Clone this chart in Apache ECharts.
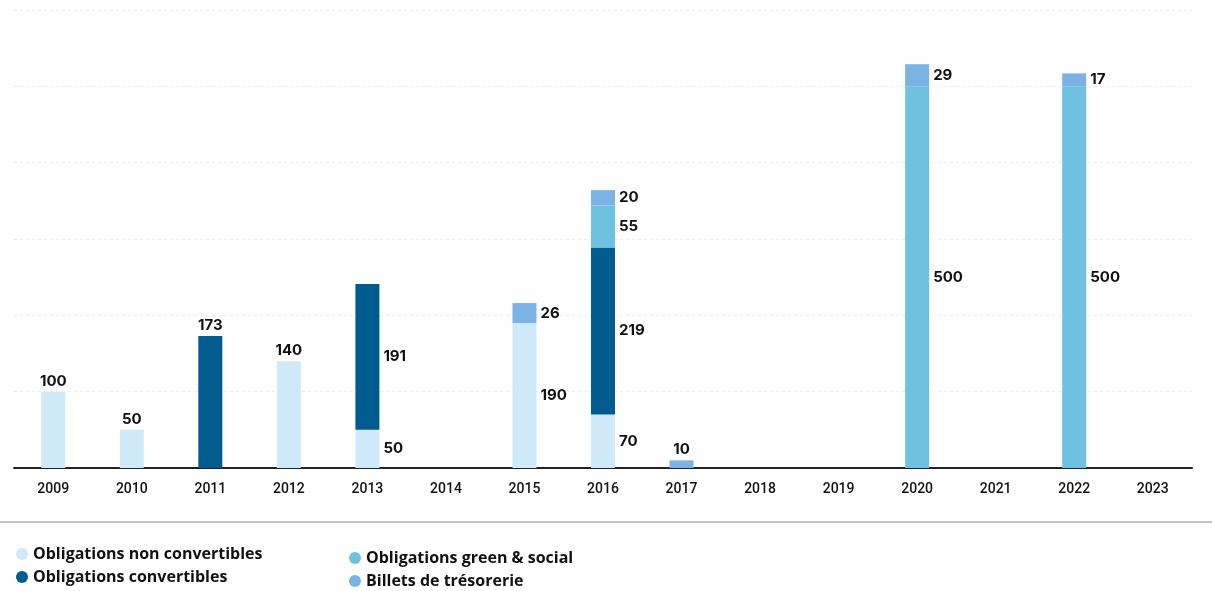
<!DOCTYPE html>
<html>
<head>
<meta charset="utf-8">
<script src="https://cdn.jsdelivr.net/npm/echarts@6/dist/echarts.min.js"></script>
<style>
  html, body { margin: 0; padding: 0; background: #ffffff; }
  #chart { width: 1212px; height: 591px; }
</style>
</head>
<body>
<div id="chart"></div>
<script>
// Emissions par année (M€)
const years = ['2009','2010','2011','2012','2013','2014','2015','2016','2017','2018','2019','2020','2021','2022','2023'];
const nonConvertibles = [100, 50, 0, 140, 50, 0, 190, 70, 0, 0, 0, 0, 0, 0, 0];
const convertibles    = [0, 0, 173, 0, 191, 0, 0, 219, 0, 0, 0, 0, 0, 0, 0];
const greenSocial     = [0, 0, 0, 0, 0, 0, 0, 55, 0, 0, 0, 500, 0, 500, 0];
const billets         = [0, 0, 0, 0, 0, 0, 26, 20, 10, 0, 0, 29, 0, 17, 0];

const seriesDefs = [
  { name: 'Obligations non convertibles', values: nonConvertibles, color: '#cfe9f9' },
  { name: 'Obligations convertibles',     values: convertibles,    color: '#005b8f' },
  { name: 'Obligations green & social',   values: greenSocial,     color: '#6ec1e0' },
  { name: 'Billets de trésorerie',        values: billets,         color: '#7cb3e5' }
];

// Number of non-empty segments per year: single segments carry their label on top,
// stacked ones carry it on the right side of each segment.
const segCount = years.map((_, i) => seriesDefs.filter(s => s.values[i] > 0).length);

const labelStyle = { color: '#111', fontSize: 15, fontWeight: 'bold', fontFamily: 'Inter, Roboto, sans-serif' };
const legendText = { color: '#111', fontSize: 16, fontWeight: 'bold', fontFamily: '"Open Sans", Inter, sans-serif' };

const series = seriesDefs.map(s => ({
  name: s.name,
  type: 'bar',
  stack: 'total',
  barWidth: 24,
  itemStyle: { color: s.color },
  data: s.values.map((v, i) => ({
    value: v === 0 ? null : v,
    label: {
      show: v > 0,
      position: segCount[i] > 1 ? 'right' : 'top',
      distance: segCount[i] > 1 ? 4 : 3,
      ...labelStyle
    }
  }))
}));

const chart = echarts.init(document.getElementById('chart'), null, { renderer: 'canvas' });
chart.setOption({
  animation: false,
  backgroundColor: '#ffffff',
  grid: { left: 14, right: 20, top: 10, bottom: 123 },
  xAxis: {
    type: 'category',
    data: years,
    axisLine: { lineStyle: { color: '#222', width: 2 } },
    axisTick: { show: false },
    axisLabel: { color: '#111', fontSize: 14, margin: 14, fontFamily: 'Roboto, sans-serif', fontWeight: 500 }
  },
  yAxis: {
    type: 'value',
    min: 0,
    max: 600,
    interval: 100,
    axisLine: { show: false },
    axisTick: { show: false },
    axisLabel: { show: false },
    splitLine: { lineStyle: { color: '#ececec', type: [3, 3], width: 1 } }
  },
  legend: [
    {
      data: ['Obligations non convertibles', 'Obligations convertibles'],
      orient: 'vertical', left: 11, top: 541, height: 50,
      icon: 'circle', itemWidth: 12, itemHeight: 12, itemGap: 7,
      textStyle: legendText
    },
    {
      data: ['Obligations green & social', 'Billets de trésorerie'],
      orient: 'vertical', left: 344, top: 545, height: 46,
      icon: 'circle', itemWidth: 12, itemHeight: 12, itemGap: 7,
      textStyle: legendText
    }
  ],
  graphic: [
    { type: 'line', shape: { x1: 0, y1: 522, x2: 1212, y2: 522 }, style: { stroke: '#8a8a8a', lineWidth: 1 } }
  ],
  series
});
</script>
</body>
</html>
